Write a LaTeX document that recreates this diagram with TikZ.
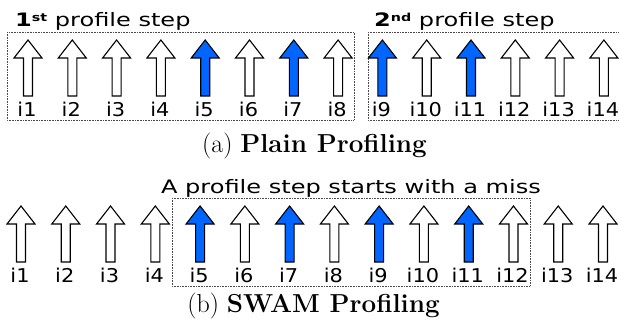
\documentclass[tikz,border=0pt]{standalone}
\usepackage{fontspec}
\newfontfamily\comic[FakeStretch=1.3]{DejaVu Sans}
\newfontfamily\comiclab[FakeStretch=1.1]{DejaVu Sans}
\definecolor{missblue}{RGB}{0,102,255}
\begin{document}
\begin{tikzpicture}[x=1pt,y=-1pt,
  upar/.pic={\draw[line width=1.1pt,pic actions] (-4.5,0) -- (-4.5,-38) -- (-14,-38) -- (0,-56) -- (14,-38) -- (4.5,-38) -- (4.5,0) -- cycle;},
  hitarr/.style={fill=white},
  missarr/.style={fill=missblue},
  lab/.style={font=\comiclab\fontsize{19}{21}\selectfont, anchor=base, inner sep=0pt},
  ttl/.style={font=\comic\fontsize{18.5}{20}\selectfont, inner sep=0pt},
  stepbox/.style={draw=black!70, line width=0.6pt, dash pattern=on 0.8pt off 0.8pt},
  capt/.style={font=\fontsize{26}{30}\selectfont, anchor=base, inner sep=0pt}]
\useasboundingbox (0,0) rectangle (619,321);
\begin{scope}
\clip (0,0) rectangle (619,321);
% top row
\draw[stepbox] (7,32) rectangle (354,120);
\draw[stepbox] (368,32) rectangle (630,120);
\node[ttl, anchor=base west] (t1) at (15,27) {\textbf{1}\raisebox{0.55ex}{\fontsize{11}{11}\selectfont\bfseries st} profile step};
\node[ttl, anchor=base west] (t2) at (374,27) {\textbf{2}\raisebox{0.55ex}{\fontsize{11}{11}\selectfont\bfseries nd} profile step};
\foreach \i in {1,...,14} {
  \pgfmathsetmacro{\xx}{28+44.3*(\i-1)}
  \ifnum\i=5 \def\st{missarr}\else\ifnum\i=7 \def\st{missarr}\else\ifnum\i=9 \def\st{missarr}\else\ifnum\i=11 \def\st{missarr}\else\def\st{hitarr}\fi\fi\fi\fi
  \pic[\st] at (\xx,96) {upar};
  \node[lab] (a\i) at (\xx-1,117) {i\i};
}
\node[capt] (capa) at (314.5,152) {(a) \textbf{Plain Profiling}};
% bottom row
\draw[stepbox] (172,198) rectangle (530,286);
\node[ttl, anchor=base] (t3) at (351,193) {A profile step starts with a miss};
\foreach \i in {1,...,14} {
  \pgfmathsetmacro{\xx}{21+44.77*(\i-1)}
  \ifnum\i=5 \def\st{missarr}\else\ifnum\i=7 \def\st{missarr}\else\ifnum\i=9 \def\st{missarr}\else\ifnum\i=11 \def\st{missarr}\else\def\st{hitarr}\fi\fi\fi\fi
  \pic[\st] at (\xx,262) {upar};
  \node[lab] (b\i) at (\xx-1,282) {i\i};
}
\node[capt] (capb) at (313.5,312) {(b) \textbf{SWAM Profiling}};
\end{scope}
\end{tikzpicture}
\end{document}
